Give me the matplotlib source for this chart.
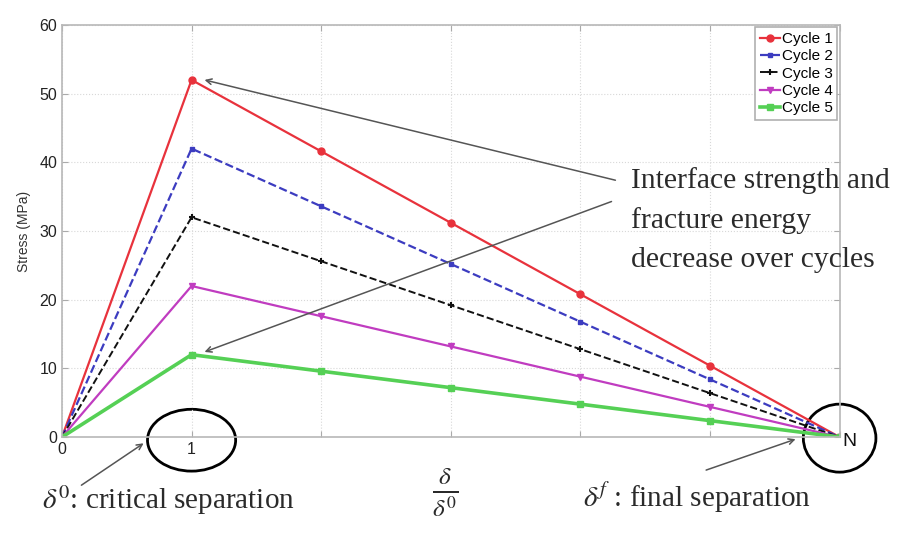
import matplotlib
matplotlib.use('Agg')
import matplotlib.pyplot as plt
from matplotlib.patches import Ellipse

plt.rcParams['mathtext.fontset'] = 'stix'
plt.rcParams['font.family'] = ['Liberation Sans', 'DejaVu Sans']

# normalised separation (0 .. N)
x = [0, 1, 2, 3, 4, 5, 6]
xlabels = ['0', '1', '', '', '', '', '']
yticks = [0, 10, 20, 30, 40, 50, 60]

cycle1 = [0, 52, 41.6, 31.2, 20.8, 10.4, 0]
cycle2 = [0, 42, 33.6, 25.2, 16.8, 8.4, 0]
cycle3 = [0, 32, 25.6, 19.2, 12.8, 6.4, 0]
cycle4 = [0, 22, 17.6, 13.2, 8.8, 4.4, 0]
cycle5 = [0, 12, 9.6, 7.2, 4.8, 2.4, 0]
names = ['Cycle 1', 'Cycle 2', 'Cycle 3', 'Cycle 4', 'Cycle 5']

fig = plt.figure(figsize=(8.98, 5.43), dpi=100)
ax = fig.add_axes([0.069, 0.195, 0.866, 0.759])

ax.plot(x, cycle1, color='#e8323c', ls='-', lw=1.6, marker='o', ms=5, label=names[0])
ax.plot(x, cycle2, color='#3c3cc0', ls='--', lw=1.6, marker='s', ms=3.5, label=names[1])
ax.plot(x, cycle3, color='#111111', ls='--', lw=1.4, marker='+', ms=5, mew=1.5, label=names[2])
ax.plot(x, cycle4, color='#c03cc0', ls='-', lw=1.6, marker='v', ms=5, label=names[3])
ax.plot(x, cycle5, color='#55d055', ls='-', lw=2.6, marker='s', ms=5, label=names[4])

ax.set_xlim(0, 6)
ax.set_ylim(0, 60)
ax.set_xticks(x)
ax.set_xticklabels(xlabels)
ax.set_yticks(yticks)
ax.tick_params(direction='in', top=True, right=True, length=4, color='#aaaaaa',
               labelsize=11.5, labelcolor='#222222')
ax.grid(True, ls=':', color='#d8d8d8', lw=0.8)
for s in ax.spines.values():
    s.set_color('#b8b8b8')
    s.set_linewidth(1.2)
ax.set_ylabel('Stress (MPa)', fontsize=10, color='#333333', labelpad=6)

leg = ax.legend(loc='upper right', fontsize=11, frameon=True, fancybox=False,
                handlelength=1.3, handletextpad=0.15, borderpad=0.3, labelspacing=0.22,
                borderaxespad=0.15, framealpha=1)
leg.get_frame().set_edgecolor('#b0b0b0')
leg.get_frame().set_linewidth(1.2)

# ellipses marking the critical and final separation
ax.add_patch(Ellipse((1, -0.45), 0.68, 9.0, fill=False, ec='black', lw=2, clip_on=False))
ax.add_patch(Ellipse((6.0, -0.15), 0.56, 9.9, fill=False, ec='black', lw=2, clip_on=False))
ax.text(6.02, -0.6, 'N', fontsize=14, ha='left', va='center', color='#111111')

arrow = dict(arrowstyle='->', color='#555555', lw=1.1, shrinkA=0, shrinkB=0)
ax.annotate('', xy=(1.10, 52.0), xytext=(4.27, 37.4), arrowprops=arrow, annotation_clip=False)
ax.annotate('', xy=(1.10, 12.4), xytext=(4.24, 34.3), arrowprops=arrow, annotation_clip=False)
ax.annotate('', xy=(0.63, -0.9), xytext=(0.15, -7.0), arrowprops=arrow, annotation_clip=False)
ax.annotate('', xy=(5.66, -0.3), xytext=(4.97, -4.8), arrowprops=arrow, annotation_clip=False)

ax.text(4.39, 31.6, 'Interface strength and\nfracture energy\ndecrease over cycles',
        fontsize=21.3, family='Liberation Serif', ha='left', va='center',
        linespacing=1.62, color='#2a2a2a', clip_on=False)

fig.text(42 / 898, 1 - 500 / 543, r'$\delta^0$: critical separation', fontsize=21,
         family='Liberation Serif', ha='left', va='center', color='#2a2a2a')
fig.text(583 / 898, 1 - 498 / 543, r'$\delta^f$ : final separation', fontsize=21,
         family='Liberation Serif', ha='left', va='center', color='#2a2a2a')
fig.text(445 / 898, 1 - 492 / 543, r'$\frac{\delta}{\delta^0}$', fontsize=26,
         ha='center', va='center', color='#2a2a2a')

fig.savefig('out.png', dpi=100)
